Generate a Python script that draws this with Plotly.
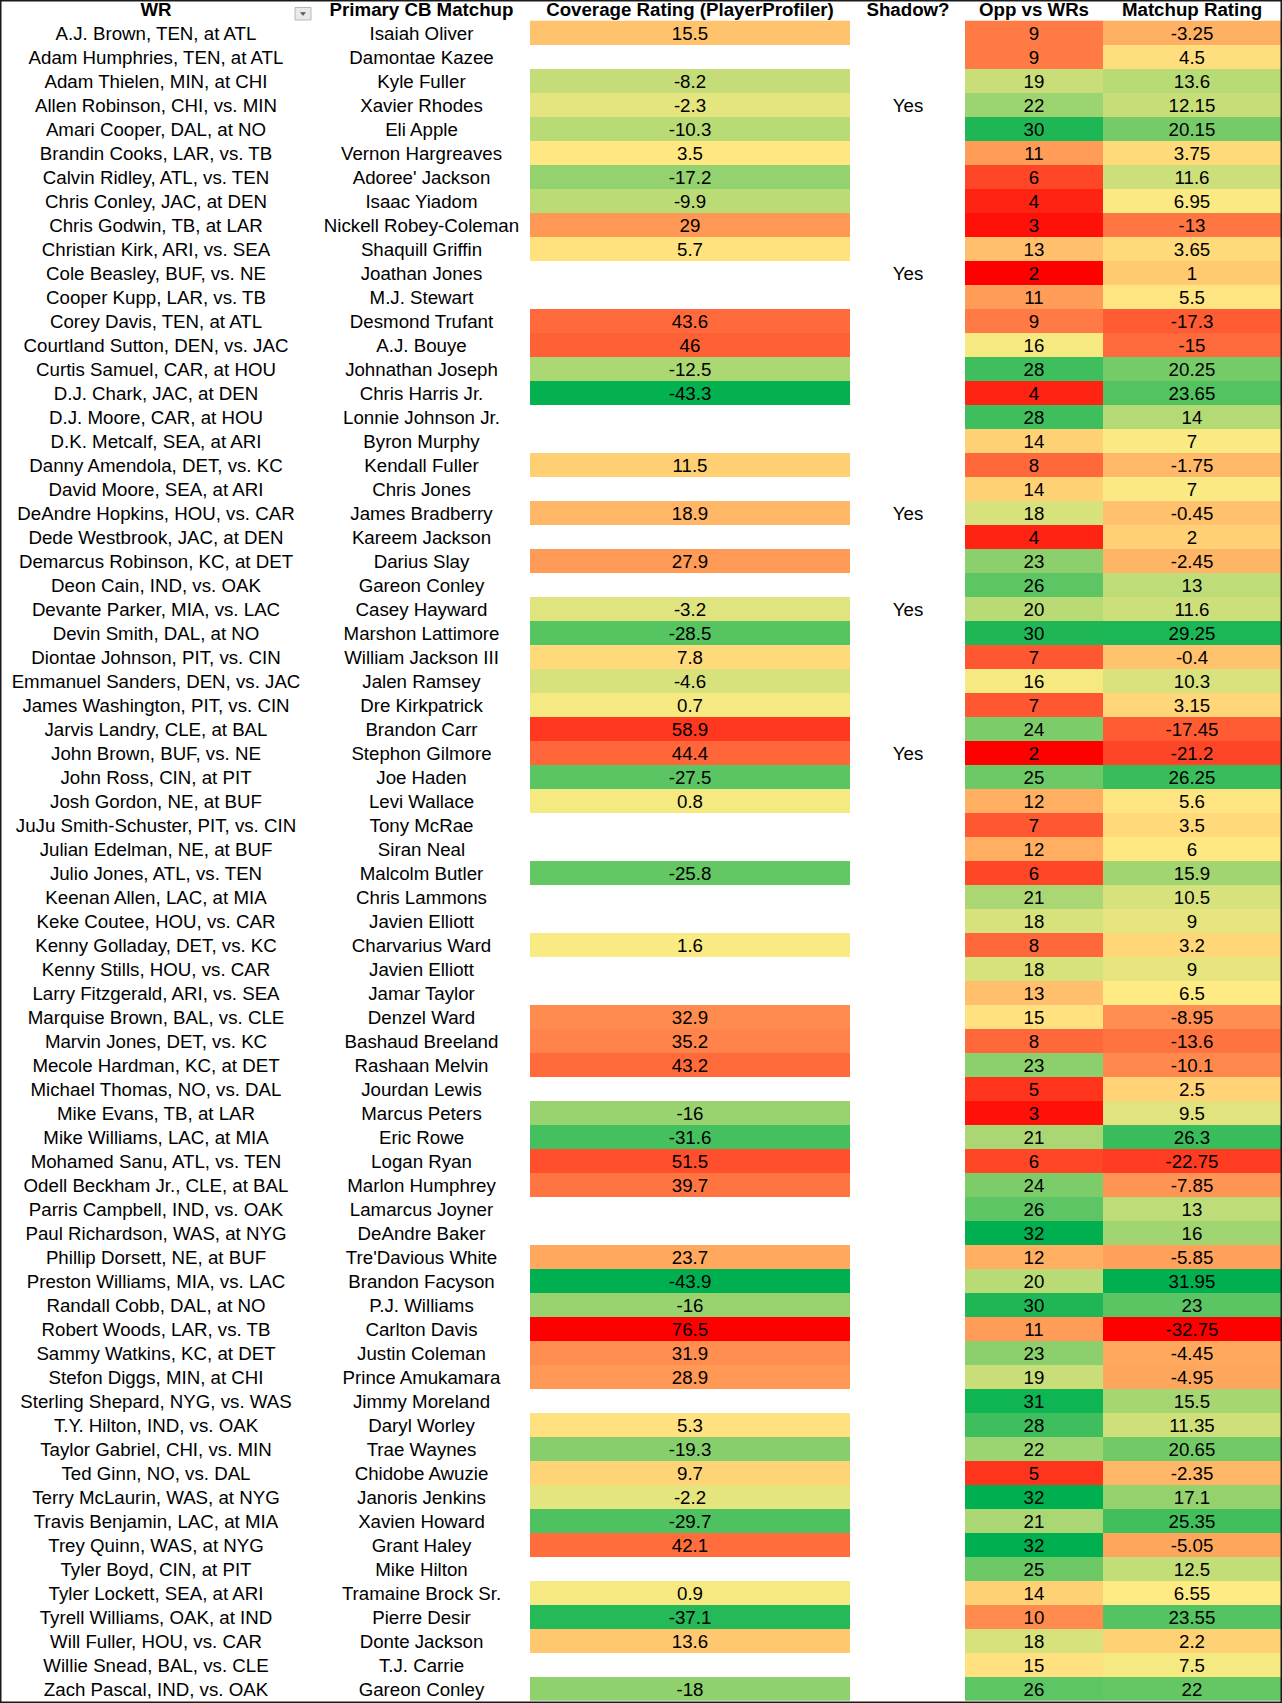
import numpy as np
import plotly.graph_objects as go

headers = ["WR", "Primary CB Matchup", "Coverage Rating (PlayerProfiler)",
           "Shadow?", "Opp vs WRs", "Matchup Rating"]

wr = [
    "A.J. Brown, TEN, at ATL", "Adam Humphries, TEN, at ATL", "Adam Thielen, MIN, at CHI",
    "Allen Robinson, CHI, vs. MIN", "Amari Cooper, DAL, at NO", "Brandin Cooks, LAR, vs. TB",
    "Calvin Ridley, ATL, vs. TEN", "Chris Conley, JAC, at DEN", "Chris Godwin, TB, at LAR",
    "Christian Kirk, ARI, vs. SEA", "Cole Beasley, BUF, vs. NE", "Cooper Kupp, LAR, vs. TB",
    "Corey Davis, TEN, at ATL", "Courtland Sutton, DEN, vs. JAC", "Curtis Samuel, CAR, at HOU",
    "D.J. Chark, JAC, at DEN", "D.J. Moore, CAR, at HOU", "D.K. Metcalf, SEA, at ARI",
    "Danny Amendola, DET, vs. KC", "David Moore, SEA, at ARI", "DeAndre Hopkins, HOU, vs. CAR",
    "Dede Westbrook, JAC, at DEN", "Demarcus Robinson, KC, at DET", "Deon Cain, IND, vs. OAK",
    "Devante Parker, MIA, vs. LAC", "Devin Smith, DAL, at NO", "Diontae Johnson, PIT, vs. CIN",
    "Emmanuel Sanders, DEN, vs. JAC", "James Washington, PIT, vs. CIN", "Jarvis Landry, CLE, at BAL",
    "John Brown, BUF, vs. NE", "John Ross, CIN, at PIT", "Josh Gordon, NE, at BUF",
    "JuJu Smith-Schuster, PIT, vs. CIN", "Julian Edelman, NE, at BUF", "Julio Jones, ATL, vs. TEN",
    "Keenan Allen, LAC, at MIA", "Keke Coutee, HOU, vs. CAR", "Kenny Golladay, DET, vs. KC",
    "Kenny Stills, HOU, vs. CAR", "Larry Fitzgerald, ARI, vs. SEA", "Marquise Brown, BAL, vs. CLE",
    "Marvin Jones, DET, vs. KC", "Mecole Hardman, KC, at DET", "Michael Thomas, NO, vs. DAL",
    "Mike Evans, TB, at LAR", "Mike Williams, LAC, at MIA", "Mohamed Sanu, ATL, vs. TEN",
    "Odell Beckham Jr., CLE, at BAL", "Parris Campbell, IND, vs. OAK", "Paul Richardson, WAS, at NYG",
    "Phillip Dorsett, NE, at BUF", "Preston Williams, MIA, vs. LAC", "Randall Cobb, DAL, at NO",
    "Robert Woods, LAR, vs. TB", "Sammy Watkins, KC, at DET", "Stefon Diggs, MIN, at CHI",
    "Sterling Shepard, NYG, vs. WAS", "T.Y. Hilton, IND, vs. OAK", "Taylor Gabriel, CHI, vs. MIN",
    "Ted Ginn, NO, vs. DAL", "Terry McLaurin, WAS, at NYG", "Travis Benjamin, LAC, at MIA",
    "Trey Quinn, WAS, at NYG", "Tyler Boyd, CIN, at PIT", "Tyler Lockett, SEA, at ARI",
    "Tyrell Williams, OAK, at IND", "Will Fuller, HOU, vs. CAR", "Willie Snead, BAL, vs. CLE",
    "Zach Pascal, IND, vs. OAK",
]

cb = [
    "Isaiah Oliver", "Damontae Kazee", "Kyle Fuller", "Xavier Rhodes", "Eli Apple",
    "Vernon Hargreaves", "Adoree' Jackson", "Isaac Yiadom", "Nickell Robey-Coleman",
    "Shaquill Griffin", "Joathan Jones", "M.J. Stewart", "Desmond Trufant", "A.J. Bouye",
    "Johnathan Joseph", "Chris Harris Jr.", "Lonnie Johnson Jr.", "Byron Murphy",
    "Kendall Fuller", "Chris Jones", "James Bradberry", "Kareem Jackson", "Darius Slay",
    "Gareon Conley", "Casey Hayward", "Marshon Lattimore", "William Jackson III",
    "Jalen Ramsey", "Dre Kirkpatrick", "Brandon Carr", "Stephon Gilmore", "Joe Haden",
    "Levi Wallace", "Tony McRae", "Siran Neal", "Malcolm Butler", "Chris Lammons",
    "Javien Elliott", "Charvarius Ward", "Javien Elliott", "Jamar Taylor", "Denzel Ward",
    "Bashaud Breeland", "Rashaan Melvin", "Jourdan Lewis", "Marcus Peters", "Eric Rowe",
    "Logan Ryan", "Marlon Humphrey", "Lamarcus Joyner", "DeAndre Baker", "Tre'Davious White",
    "Brandon Facyson", "P.J. Williams", "Carlton Davis", "Justin Coleman", "Prince Amukamara",
    "Jimmy Moreland", "Daryl Worley", "Trae Waynes", "Chidobe Awuzie", "Janoris Jenkins",
    "Xavien Howard", "Grant Haley", "Mike Hilton", "Tramaine Brock Sr.", "Pierre Desir",
    "Donte Jackson", "T.J. Carrie", "Gareon Conley",
]

coverage = [
    15.5, None, -8.2, -2.3, -10.3, 3.5, -17.2, -9.9, 29, 5.7,
    None, None, 43.6, 46, -12.5, -43.3, None, None, 11.5, None,
    18.9, None, 27.9, None, -3.2, -28.5, 7.8, -4.6, 0.7, 58.9,
    44.4, -27.5, 0.8, None, None, -25.8, None, None, 1.6, None,
    None, 32.9, 35.2, 43.2, None, -16, -31.6, 51.5, 39.7, None,
    None, 23.7, -43.9, -16, 76.5, 31.9, 28.9, None, 5.3, -19.3,
    9.7, -2.2, -29.7, 42.1, None, 0.9, -37.1, 13.6, None, -18,
]

shadow = [""] * 70
for _i in (4, 11, 21, 25, 31):
    shadow[_i - 1] = "Yes"

opp = [
    9, 9, 19, 22, 30, 11, 6, 4, 3, 13,
    2, 11, 9, 16, 28, 4, 28, 14, 8, 14,
    18, 4, 23, 26, 20, 30, 7, 16, 7, 24,
    2, 25, 12, 7, 12, 6, 21, 18, 8, 18,
    13, 15, 8, 23, 5, 3, 21, 6, 24, 26,
    32, 12, 20, 30, 11, 23, 19, 31, 28, 22,
    5, 32, 21, 32, 25, 14, 10, 18, 15, 26,
]

matchup = [
    -3.25, 4.5, 13.6, 12.15, 20.15, 3.75, 11.6, 6.95, -13, 3.65,
    1, 5.5, -17.3, -15, 20.25, 23.65, 14, 7, -1.75, 7,
    -0.45, 2, -2.45, 13, 11.6, 29.25, -0.4, 10.3, 3.15, -17.45,
    -21.2, 26.25, 5.6, 3.5, 6, 15.9, 10.5, 9, 3.2, 9,
    6.5, -8.95, -13.6, -10.1, 2.5, 9.5, 26.3, -22.75, -7.85, 13,
    16, -5.85, 31.95, 23, -32.75, -4.45, -4.95, 15.5, 11.35, 20.65,
    -2.35, 17.1, 25.35, -5.05, 12.5, 6.55, 23.55, 2.2, 7.5, 22,
]

# ---------------- layout constants ----------------
W, H = 1282, 1703
HEADER_PX, ROW_PX = 20.7, 24.0
N = len(wr)
Y_TOP = 0.5 - HEADER_PX / ROW_PX
Y_BOT = Y_TOP + H / ROW_PX
Y_HEAD = 0.5 - HEADER_PX / ROW_PX / 2 + 0.03
TEXT_DY = 0.13
centers = [156, 421.5, 690, 908, 1034, 1192]
FONT = "Arial, Liberation Sans, Arimo, sans-serif"
FS = 18.7

RED, YEL, GRN = "#FF0000", "#FFEB84", "#00B050"


def three_color(vals, high_good):
    v = np.array([x for x in vals if x is not None], dtype=float)
    lo, hi, mid = v.min(), v.max(), np.percentile(v, 50)
    p = float((mid - lo) / (hi - lo))
    if high_good:
        cs = [[0, RED], [p, YEL], [1, GRN]]
    else:
        cs = [[0, GRN], [p, YEL], [1, RED]]
    return float(lo), float(hi), cs


def fmt(v):
    return "" if v is None else f"{v:g}"


rows = np.arange(1, N + 1)
y_edges = np.arange(0.5, N + 1.0, 1.0)

fig = go.Figure()

for vals, xedges, good in [(coverage, [530, 850], False),
                           (opp, [965, 1103], True),
                           (matchup, [1103, 1281], True)]:
    lo, hi, cs = three_color(vals, good)
    fig.add_trace(go.Heatmap(
        x=xedges, y=y_edges,
        z=[[np.nan if v is None else v] for v in vals],
        zmin=lo, zmax=hi, colorscale=cs, showscale=False,
        hoverinfo="skip",
    ))

columns = [wr, cb, [fmt(v) for v in coverage], shadow,
           [fmt(v) for v in opp], [fmt(v) for v in matchup]]

for cx, col in zip(centers, columns):
    fig.add_trace(go.Scatter(
        x=[cx] * N, y=rows + TEXT_DY, mode="text", text=col,
        textposition="middle center",
        textfont=dict(family=FONT, size=FS, color="#000000"),
        hoverinfo="skip", showlegend=False, cliponaxis=False,
    ))

fig.add_trace(go.Scatter(
    x=centers, y=[Y_HEAD] * len(headers), mode="text", text=headers,
    textposition="middle center",
    textfont=dict(family=FONT, size=FS, color="#000000", weight="bold"),
    hoverinfo="skip", showlegend=False, cliponaxis=False,
))


def py(px):
    return Y_TOP + px / ROW_PX


# filter drop-down button next to the WR header
fig.add_shape(type="rect", x0=295, x1=311, y0=py(7.5), y1=py(20),
              fillcolor="#E9E9E9", line=dict(color="#B8B8B8", width=1))
fig.add_shape(type="path",
              path=f"M 300.5 {py(12.5)} L 305.5 {py(12.5)} L 303 {py(15.5)} Z",
              fillcolor="#555555", line=dict(color="#555555", width=0.5))

# outer border
fig.add_shape(type="rect", xref="paper", yref="paper", x0=0, x1=1, y0=0, y1=1,
              line=dict(color="#1a1a1a", width=3), fillcolor="rgba(0,0,0,0)")

fig.update_layout(
    width=W, height=H, margin=dict(l=0, r=0, t=0, b=0),
    paper_bgcolor="white", plot_bgcolor="white", showlegend=False,
    hovermode=False,
    xaxis=dict(range=[0, W], visible=False, fixedrange=True),
    yaxis=dict(range=[Y_BOT, Y_TOP], visible=False, fixedrange=True),
)

fig.write_html("out.html", config={"displayModeBar": False},
               post_script="document.body.style.margin='0';")
